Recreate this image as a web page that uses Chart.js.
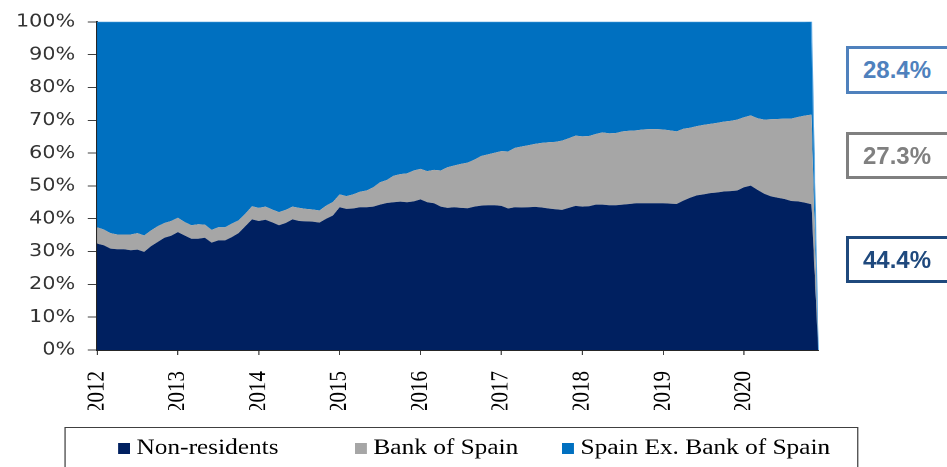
<!DOCTYPE html>
<html>
<head>
<meta charset="utf-8">
<script src="https://cdn.jsdelivr.net/npm/chart.js@4.4.1/dist/chart.umd.min.js"></script>
<style>
    html, body { margin: 0; padding: 0; background: #fff; }
    body { width: 947px; height: 467px; position: relative; overflow: hidden; }
    #wrap { position: absolute; left: 0; top: 0; width: 823px; height: 467px;
            transform: scaleX(1.1507); transform-origin: 0 0; }
    .tag { position: absolute; left: 846px; width: 120px; box-sizing: border-box;
           border: 3px solid; background: #fff; font: bold 24px "Liberation Sans", Arial, sans-serif;
           padding-left: 14px; display: flex; align-items: center; }
</style>
</head>
<body>
<div id="wrap"><canvas id="debtChart" width="823" height="467"></canvas></div>
<div class="tag" id="tagSpain" style="top:46px;height:48px;border-color:#4f81bd;color:#4f81bd"></div>
<div class="tag" id="tagBoS" style="top:132px;height:47px;border-color:#808080;color:#808080"></div>
<div class="tag" id="tagNR" style="top:236px;height:47px;border-color:#1f497d;color:#1f497d"></div>

<script>
// monthly, Jan 2012 .. Dec 2020 (last month has no data -> 0)
const years = [2012, 2013, 2014, 2015, 2016, 2017, 2018, 2019, 2020];
const months = ['01', '02', '03', '04', '05', '06', '07', '08', '09', '10', '11', '12'];
const labels = [];
years.forEach(y => months.forEach(m => labels.push(y + '-' + m)));

// share of holdings, %
const nonResidents = [
    32.4, 31.9, 30.9, 30.7, 30.7, 30.4, 30.6, 29.9, 31.6, 32.9, 34.2, 34.8,
    35.9, 34.9, 33.9, 33.9, 34.2, 32.7, 33.4, 33.4, 34.4, 35.6, 37.7, 39.8,
    39.3, 39.7, 38.9, 38.0, 38.7, 39.8, 39.3, 39.2, 39.1, 38.8, 40.0, 41.0,
    43.5, 43.0, 43.1, 43.5, 43.5, 43.7, 44.3, 44.8, 45.0, 45.2, 45.0, 45.3,
    45.9, 45.0, 44.7, 43.7, 43.3, 43.5, 43.3, 43.2, 43.7, 44.0, 44.1, 44.1,
    43.9, 43.1, 43.5, 43.4, 43.5, 43.6, 43.4, 43.1, 42.9, 42.7, 43.3, 43.9,
    43.7, 43.8, 44.3, 44.3, 44.1, 44.1, 44.3, 44.5, 44.7, 44.7, 44.7, 44.7,
    44.7, 44.6, 44.5, 45.5, 46.4, 47.1, 47.4, 47.8, 48.0, 48.3, 48.4, 48.6,
    49.6, 50.1, 48.8, 47.6, 46.8, 46.4, 46.0, 45.4, 45.3, 44.9, 44.4, 0
];
const bankOfSpain = [
    5.0, 4.8, 4.7, 4.5, 4.5, 4.8, 5.0, 5.0, 4.8, 4.8, 4.5, 4.5,
    4.4, 4.1, 4.1, 4.4, 4.0, 3.9, 4.0, 4.0, 4.1, 3.9, 3.8, 4.0,
    4.0, 4.0, 3.9, 4.0, 4.0, 3.9, 4.0, 3.8, 3.7, 3.7, 4.0, 4.1,
    3.9, 3.9, 4.3, 4.7, 5.1, 5.9, 6.8, 7.0, 8.1, 8.4, 8.8, 9.4,
    9.3, 9.5, 10.2, 11.0, 12.4, 12.7, 13.4, 13.9, 14.3, 15.1, 15.5, 16.0,
    16.7, 17.4, 18.1, 18.6, 18.9, 19.2, 19.7, 20.2, 20.5, 21.1, 21.2, 21.4,
    21.4, 21.4, 21.5, 22.0, 21.9, 22.0, 22.3, 22.3, 22.2, 22.5, 22.6, 22.6,
    22.5, 22.3, 22.1, 21.9, 21.3, 21.1, 21.2, 21.1, 21.2, 21.3, 21.4, 21.6,
    21.3, 21.4, 21.8, 22.6, 23.5, 24.0, 24.5, 25.1, 25.7, 26.5, 27.3, 0
];
const spainExBoS = [
    62.6, 63.3, 64.4, 64.8, 64.8, 64.8, 64.4, 65.1, 63.6, 62.3, 61.3, 60.7,
    59.7, 61.0, 62.0, 61.7, 61.8, 63.4, 62.6, 62.6, 61.5, 60.5, 58.5, 56.2,
    56.7, 56.3, 57.2, 58.0, 57.3, 56.3, 56.7, 57.0, 57.2, 57.5, 56.0, 54.9,
    52.6, 53.1, 52.6, 51.8, 51.4, 50.4, 48.9, 48.2, 46.9, 46.4, 46.2, 45.3,
    44.8, 45.5, 45.1, 45.3, 44.3, 43.8, 43.3, 42.9, 42.0, 40.9, 40.4, 39.9,
    39.4, 39.5, 38.4, 38.0, 37.6, 37.2, 36.9, 36.7, 36.6, 36.2, 35.5, 34.7,
    34.9, 34.8, 34.2, 33.7, 34.0, 33.9, 33.4, 33.2, 33.1, 32.8, 32.7, 32.7,
    32.8, 33.1, 33.4, 32.6, 32.3, 31.8, 31.4, 31.1, 30.8, 30.4, 30.2, 29.8,
    29.1, 28.5, 29.4, 29.8, 29.7, 29.6, 29.5, 29.5, 29.0, 28.6, 28.4, 0
];

// latest values shown in the boxes on the right
const lastIdx = labels.length - 2;
document.getElementById('tagSpain').innerText = spainExBoS[lastIdx].toFixed(1) + '%';
document.getElementById('tagBoS').innerText = bankOfSpain[lastIdx].toFixed(1) + '%';
document.getElementById('tagNR').innerText = nonResidents[lastIdx].toFixed(1) + '%';

// boxed legend drawn under the axis
const boxedLegend = {
    id: 'boxedLegend',
    afterDraw(chart) {
        const ctx = chart.ctx;
        ctx.save();
        ctx.strokeStyle = '#404040';
        ctx.lineWidth = 1;
        ctx.strokeRect(56.5, 427.5, 689, 60);
        ctx.font = '22px "Liberation Serif", "Times New Roman", serif';
        ctx.textBaseline = 'middle';
        const startX = [102.6, 308.5, 488.5];
        chart.data.datasets.forEach((ds, i) => {
            ctx.fillStyle = ds.backgroundColor;
            ctx.fillRect(startX[i], 443, 10.4, 11);
            ctx.fillStyle = '#000';
            ctx.fillText(ds.label, startX[i] + 16, 448);
        });
        ctx.restore();
    }
};

const ctx = document.getElementById('debtChart').getContext('2d');
new Chart(ctx, {
    type: 'line',
    data: {
        labels: labels,
        datasets: [{
            label: 'Non-residents',
            data: nonResidents,
            backgroundColor: '#002060',
            borderWidth: 0,
            fill: 'origin'
        }, {
            label: 'Bank of Spain',
            data: bankOfSpain,
            backgroundColor: '#a6a6a6',
            borderWidth: 0,
            fill: '-1'
        }, {
            label: 'Spain Ex. Bank of Spain',
            data: spainExBoS,
            backgroundColor: '#0070c0',
            borderColor: '#5aa6e0',
            borderWidth: 1,
            fill: '-1'
        }]
    },
    options: {
        responsive: false,
        animation: false,
        devicePixelRatio: 2,
        layout: { padding: { top: 11, right: 112, bottom: 57, left: 0 } },
        elements: { point: { radius: 0 }, line: { tension: 0 } },
        plugins: { legend: { display: false }, tooltip: { enabled: false } },
        scales: {
            x: {
                afterFit: s => { s.height = 60; },
                grid: { drawOnChartArea: false, tickLength: 5, color: '#404040' },
                border: { color: '#262626', width: 1.5 },
                ticks: {
                    autoSkip: false,
                    maxRotation: 90,
                    minRotation: 90,
                    padding: 16,
                    color: '#000',
                    font: { family: '"Liberation Serif", "Times New Roman", serif', size: 21 },
                    callback: function (v, i) {
                        const l = labels[i];
                        return l.endsWith('-01') ? l.slice(0, 4) : null;
                    }
                }
            },
            y: {
                stacked: true,
                min: 0,
                max: 100,
                afterFit: s => { s.width = 84.3; },
                grid: { drawOnChartArea: false, tickLength: 8, color: '#404040' },
                border: { color: '#262626', width: 1.5 },
                ticks: {
                    stepSize: 10,
                    padding: 11,
                    color: '#333',
                    font: { family: '"DejaVu Sans", Verdana, sans-serif', size: 18 },
                    callback: v => v + '%'
                }
            }
        }
    },
    plugins: [boxedLegend]
});
</script>
</body>
</html>
